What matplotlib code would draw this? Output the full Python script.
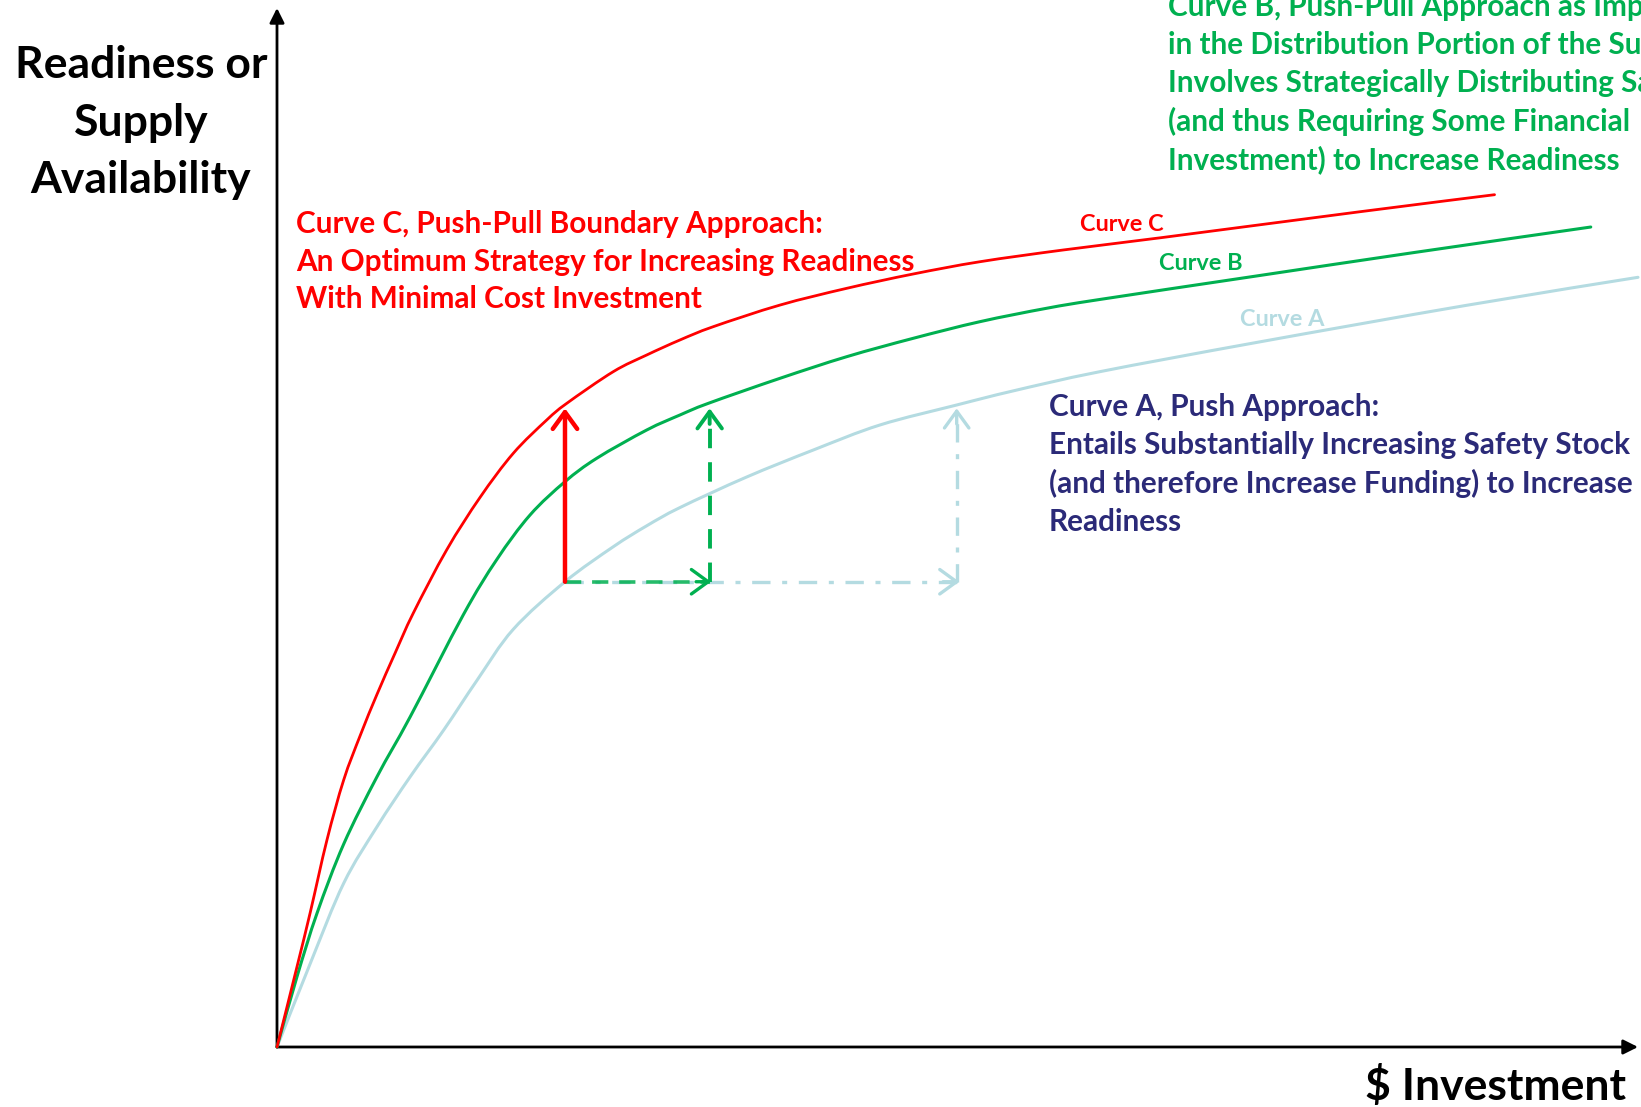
import matplotlib
matplotlib.use("Agg")
import matplotlib.pyplot as plt
from matplotlib.path import Path
from matplotlib.patches import PathPatch

# ---- curve data: investment (x) vs readiness (y), both on a 0-100 scale ----
curve_c_x = [0, 1.47, 2.45, 3.67, 4.90, 6.12, 7.35, 8.69, 10.01, 12.47, 14.92, 17.36,
             19.82, 21.29, 24.71, 27.16, 29.61, 32.06, 36.96, 41.86, 46.75, 51.65,
             57.77, 65.0, 79.62, 89.46]
curve_c_y = [0, 7.73, 12.99, 19.92, 25.70, 30.0, 33.95, 37.95, 41.75, 47.85, 52.90, 57.14,
             60.35, 61.95, 65.0, 66.60, 68.05, 69.33, 71.41, 73.02, 74.40, 75.58,
             76.71, 77.90, 80.40, 82.03]

curve_b_x = [0, 1.47, 2.94, 4.90, 7.35, 9.79, 13.69, 16.14, 18.59, 21.16, 23.49, 27.16,
             29.61, 31.69, 36.96, 41.86, 46.75, 51.65, 56.55, 60.47, 71.93, 83.47, 96.53]
curve_b_y = [0, 6.77, 12.87, 19.53, 26.02, 31.79, 41.60, 46.90, 51.20, 54.41, 56.66, 59.38,
             60.83, 61.95, 64.36, 66.44, 68.21, 69.81, 71.10, 71.95, 74.20, 76.45, 78.92]

curve_a_x = [0, 2.45, 4.90, 7.35, 9.79, 12.25, 14.70, 17.36, 21.16, 24.71, 27.16, 29.61,
             34.51, 39.41, 44.31, 49.94, 54.1, 60.47, 71.93, 87.29, 100]
curve_a_y = [0, 8.06, 15.76, 21.20, 26.02, 30.51, 35.30, 40.20, 44.78, 48.15, 50.16, 51.92,
             54.86, 57.46, 59.87, 61.79, 63.15, 65.0, 67.80, 71.36, 74.08]

# readiness step: common starting point and target level
start_x = 21.16
start_y = 44.78
target_y = 61.47
invest_b = 31.79
invest_a = 49.94

# ---- text ----
y_label_lines = ["Readiness or", "Supply", "Availability"]
x_label = "$ Investment"
c_note = ["Curve C, Push-Pull Boundary Approach:",
          "An Optimum Strategy for Increasing Readiness",
          "With Minimal Cost Investment"]
b_note = ["Curve B, Push-Pull Approach as Implemented",
          "in the Distribution Portion of the Supply Chain:",
          "Involves Strategically Distributing Safety Stock",
          "(and thus Requiring Some Financial",
          "Investment) to Increase Readiness"]
a_note = ["Curve A, Push Approach:",
          "Entails Substantially Increasing Safety Stock",
          "(and therefore Increase Funding) to Increase",
          "Readiness"]

RED = "#FF0000"
GREEN = "#00B050"
LIGHT = "#B4DBE1"
NAVY = "#2B2A78"
FONT = "Lato"

W_PX, H_PX = 1641, 1107
fig = plt.figure(figsize=(W_PX / 100, H_PX / 100), dpi=100)
ax = fig.add_axes([277 / W_PX, (H_PX - 1047) / H_PX, (1638 - 277) / W_PX, (1047 - 8) / H_PX])
ax.set_xlim(0, 100)
ax.set_ylim(0, 100)
ax.axis("off")


def fpos(x, y):
    return x / W_PX, 1 - y / H_PX


def smooth_curve(xs, ys, color, lw, z):
    """Draw a smooth line through the given points (Catmull-Rom as cubic Beziers)."""
    pts = list(zip(xs, ys))
    n = len(pts)
    verts = [pts[0]]
    codes = [Path.MOVETO]
    for i in range(n - 1):
        p0 = pts[max(i - 1, 0)]
        p1 = pts[i]
        p2 = pts[i + 1]
        p3 = pts[min(i + 2, n - 1)]
        c1 = (p1[0] + (p2[0] - p0[0]) / 6, p1[1] + (p2[1] - p0[1]) / 6)
        c2 = (p2[0] - (p3[0] - p1[0]) / 6, p2[1] - (p3[1] - p1[1]) / 6)
        verts += [c1, c2, p2]
        codes += [Path.CURVE4] * 3
    patch = PathPatch(Path(verts, codes), facecolor="none", edgecolor=color, lw=lw,
                      capstyle="round", joinstyle="round", clip_on=False, zorder=z)
    ax.add_patch(patch)


# axes drawn as arrows
for tip in [(0, 100), (100, 0)]:
    ax.annotate("", xy=tip, xytext=(0, 0), annotation_clip=False,
                arrowprops=dict(arrowstyle="-|>", lw=2.0, color="black",
                                mutation_scale=22, shrinkA=0, shrinkB=0))

# curves
smooth_curve(curve_a_x, curve_a_y, LIGHT, 2.2, 2)
smooth_curve(curve_b_x, curve_b_y, GREEN, 2.2, 3)
smooth_curve(curve_c_x, curve_c_y, RED, 2.0, 4)


def head(x0, y0, x1, y1, color, lw, z):
    ax.annotate("", xy=(x1, y1), xytext=(x0, y0), annotation_clip=False, zorder=z,
                arrowprops=dict(arrowstyle="->,head_length=0.55,head_width=0.4", lw=lw,
                                color=color, mutation_scale=22, shrinkA=0, shrinkB=0))


# curve A push path: dash-dot horizontal and vertical
ax.plot([start_x, invest_a], [start_y, start_y], color=LIGHT, lw=2.4,
        dashes=(5.5, 3.5, 1.5, 3.5), clip_on=False, zorder=5)
head(invest_a - 1.0, start_y, invest_a + 0.2, start_y, LIGHT, 2.4, 5)
ax.plot([invest_a, invest_a], [start_y, target_y - 0.5], color=LIGHT, lw=2.4,
        dashes=(5.5, 3.5, 1.5, 3.5), clip_on=False, zorder=5)
head(invest_a, target_y - 1.5, invest_a, target_y, LIGHT, 2.4, 5)

# curve B push-pull path: dashed horizontal and vertical
ax.plot([start_x, invest_b], [start_y, start_y], color=GREEN, lw=2.6, alpha=0.85,
        dashes=(4.5, 3.0), clip_on=False, zorder=6)
head(invest_b - 1.0, start_y, invest_b + 0.1, start_y, GREEN, 2.4, 6)
ax.plot([invest_b, invest_b], [start_y, target_y - 0.5], color=GREEN, lw=2.8,
        dashes=(5.0, 3.6), clip_on=False, zorder=6)
head(invest_b, target_y - 1.5, invest_b, target_y, GREEN, 2.8, 6)

# curve C boundary path: solid vertical
ax.annotate("", xy=(start_x, target_y), xytext=(start_x, start_y), annotation_clip=False, zorder=7,
            arrowprops=dict(arrowstyle="->,head_length=0.55,head_width=0.4", lw=3.2,
                            color=RED, mutation_scale=22, shrinkA=0, shrinkB=0))

# axis titles
for i, line in enumerate(y_label_lines):
    fig.text(*fpos(141, 65 + i * 57.6), line, ha="center", va="center",
             fontsize=32, fontweight="bold", family=FONT, color="black")
fig.text(*fpos(1626, 1086), x_label, ha="right", va="center",
         fontsize=32, fontweight="bold", family=FONT, color="black")

# annotation blocks
NOTE_SIZE = 21.4
for i, line in enumerate(c_note):
    fig.text(*fpos(296, 224 + i * 37.7), line, ha="left", va="center",
             fontsize=NOTE_SIZE, fontweight="bold", family=FONT, color=RED)
for i, line in enumerate(b_note):
    fig.text(*fpos(1168, 7 + i * 38.2), line, ha="left", va="center",
             fontsize=NOTE_SIZE, fontweight="bold", family=FONT, color=GREEN)
for i, line in enumerate(a_note):
    fig.text(*fpos(1049, 407 + i * 38.4), line, ha="left", va="center",
             fontsize=NOTE_SIZE, fontweight="bold", family=FONT, color=NAVY)

# curve name tags
TAG_SIZE = 16.9
fig.text(*fpos(1122, 224), "Curve C", ha="center", va="center",
         fontsize=TAG_SIZE, fontweight="bold", family=FONT, color=RED)
fig.text(*fpos(1201, 264), "Curve B", ha="center", va="center",
         fontsize=TAG_SIZE, fontweight="bold", family=FONT, color=GREEN)
fig.text(*fpos(1282, 319), "Curve A", ha="center", va="center",
         fontsize=TAG_SIZE, fontweight="bold", family=FONT, color=LIGHT)

fig.savefig("out.png", dpi=100, facecolor="white")
